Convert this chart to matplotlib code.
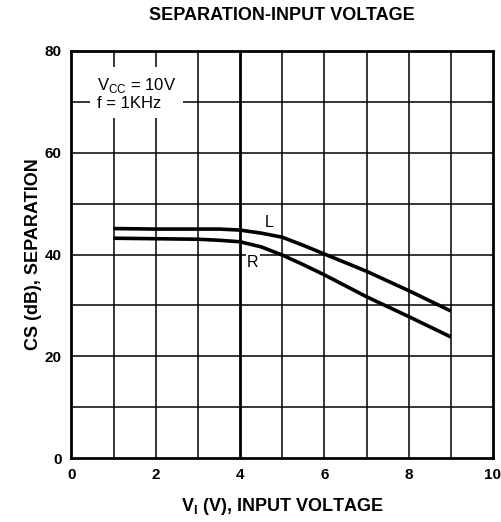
import matplotlib
matplotlib.use("Agg")
import matplotlib.pyplot as plt

plt.rcParams['font.family'] = ['Liberation Sans', 'DejaVu Sans']
plt.rcParams['mathtext.fontset'] = 'custom'
plt.rcParams['mathtext.rm'] = 'Liberation Sans'
plt.rcParams['mathtext.bf'] = 'Liberation Sans:bold'

# Data
vin = [1, 2, 3, 3.5, 4, 4.5, 5, 5.5, 6, 7, 8, 9]
sep_L = [45.1, 45.0, 45.0, 45.0, 44.8, 44.2, 43.4, 41.8, 40.1, 36.7, 32.9, 28.9]
sep_R = [43.2, 43.1, 43.0, 42.8, 42.5, 41.5, 39.9, 38.0, 36.0, 31.7, 27.8, 23.8]
x_ticks = [0, 2, 4, 6, 8, 10]
y_ticks = [0, 20, 40, 60, 80]

fig = plt.figure(figsize=(5.02, 5.22), dpi=100)
ax = fig.add_axes([0.1424, 0.1226, 0.8396, 0.7797])

ax.set_xlim(0, 10)
ax.set_ylim(0, 80)

# grid
for xv in range(1, 10):
    ax.axvline(xv, color='black', lw=2.0 if xv == 4 else 1.1, zorder=1)
for yv in range(10, 80, 10):
    ax.axhline(yv, color='black', lw=1.1, zorder=1)

ax.plot(vin, sep_L, color='black', lw=2.6, zorder=3, solid_capstyle='butt')
ax.plot(vin, sep_R, color='black', lw=2.6, zorder=3, solid_capstyle='butt')

ax.text(4.69, 46.3, 'L', fontsize=11.5, ha='center', va='center', zorder=4)
ax.text(4.3, 38.4, 'R', fontsize=11.5, ha='center', va='center', zorder=4,
        bbox=dict(facecolor='white', edgecolor='none', pad=1.0))

# annotation box
ax.text(0.6, 75.0, r'V$_{\mathregular{CC}}$ = 10V' + '\nf = 1KHz', fontsize=12,
        ha='left', va='top', linespacing=1.05, zorder=4,
        bbox=dict(facecolor='white', edgecolor='none', pad=5))

for s in ax.spines.values():
    s.set_linewidth(2.0)
    s.set_zorder(5)

ax.set_xticks(x_ticks)
ax.set_yticks(y_ticks)
ax.tick_params(length=0, labelsize=11, pad=7)
for lbl in ax.get_xticklabels() + ax.get_yticklabels():
    lbl.set_fontweight('bold')

ax.set_xlabel(r'V$_{\mathregular{I}}$ (V), INPUT VOLTAGE', fontsize=13,
              fontweight='bold', labelpad=10)
ax.set_ylabel('CS (dB), SEPARATION', fontsize=13, fontweight='bold', labelpad=2)

fig.text(0.5618, 0.971, 'SEPARATION-INPUT VOLTAGE', fontsize=13,
         fontweight='bold', ha='center', va='center')

fig.savefig('out.png', dpi=100)
